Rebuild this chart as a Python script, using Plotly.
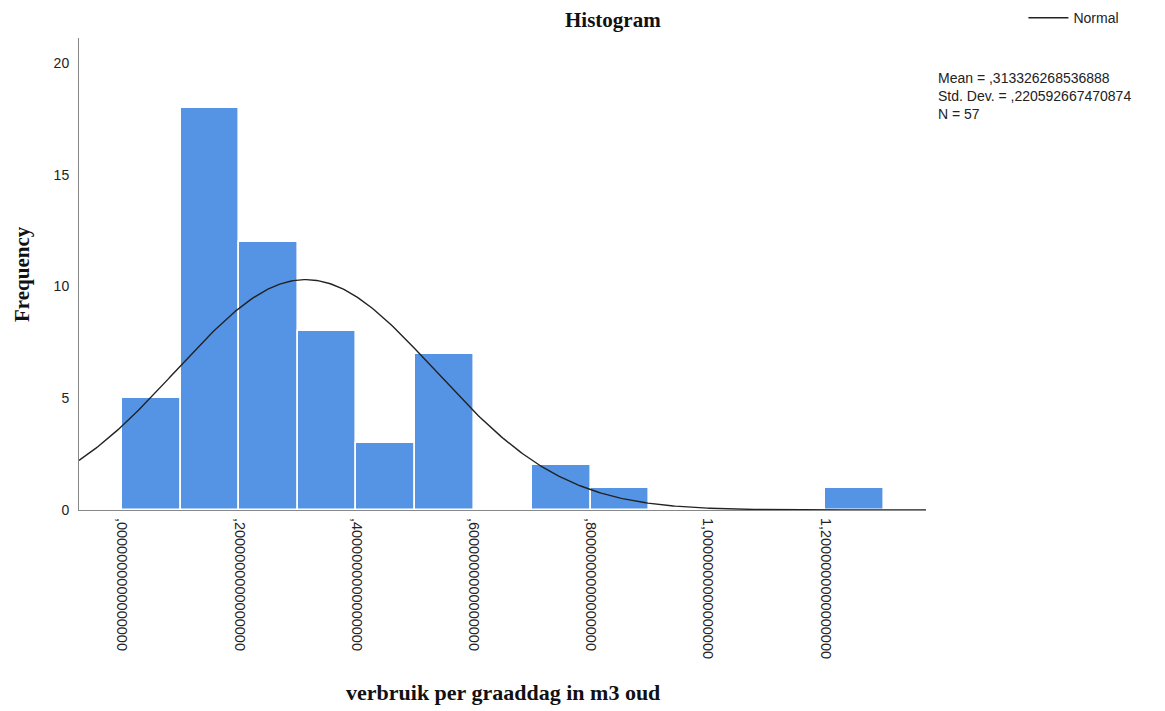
import numpy as np
import plotly.graph_objects as go

# ---- data ----
bin_starts = [0.0, 0.1, 0.2, 0.3, 0.4, 0.5, 0.6, 0.7, 0.8, 0.9, 1.0, 1.1, 1.2]
counts = [5, 18, 12, 8, 3, 7, 0, 2, 1, 0, 0, 0, 1]
BIN_WIDTH = 0.1
MEAN = 0.313326268536888
SD = 0.220592667470874
N = 57
tick_vals = [0.0, 0.2, 0.4, 0.6, 0.8, 1.0, 1.2]
tick_text = [",0000000000000000", ",2000000000000000", ",4000000000000000",
             ",6000000000000000", ",8000000000000000", "1,0000000000000000",
             "1,2000000000000000"]
y_ticks = [0, 5, 10, 15, 20]

X_RANGE = [-0.0734, 1.372]
Y_RANGE = [0, 21.12]

SERIF = "Liberation Serif, Times New Roman, serif"
SANS = "Liberation Sans, Arial, sans-serif"

fig = go.Figure()

bx = [s + BIN_WIDTH / 2 for s, c in zip(bin_starts, counts) if c > 0]
by = [c for c in counts if c > 0]
fig.add_trace(go.Bar(
    x=bx, y=by, width=BIN_WIDTH,
    marker=dict(color="#5594E4", line=dict(color="white", width=1.6)),
    showlegend=False, hoverinfo="x+y",
))

xc = np.linspace(X_RANGE[0], X_RANGE[1], 400)
yc = N * BIN_WIDTH / (SD * np.sqrt(2 * np.pi)) * np.exp(-0.5 * ((xc - MEAN) / SD) ** 2)
fig.add_trace(go.Scatter(
    x=xc, y=yc, mode="lines", name="Normal",
    line=dict(color="#222222", width=1.4), showlegend=True,
))

fig.update_layout(
    width=1157, height=703,
    margin=dict(l=71, r=239, t=30, b=201, autoexpand=False),
    paper_bgcolor="white", plot_bgcolor="white",
    bargap=0,
    font=dict(family=SANS, size=14, color="#222222"),
    legend=dict(x=1.115, y=1.076, xanchor="left", yanchor="top",
                font=dict(family=SANS, size=14, color="#222222"),
                bgcolor="rgba(0,0,0,0)", itemwidth=40),
    xaxis=dict(range=X_RANGE, showgrid=False, zeroline=False,
               showline=True, linecolor="#888888", linewidth=1,
               tickmode="array", tickvals=tick_vals, ticktext=tick_text,
               tickangle=90, ticks="", ticklabelstandoff=4,
               tickfont=dict(family=SANS, size=14.5, color="#222222")),
    yaxis=dict(range=Y_RANGE, showgrid=False, zeroline=False,
               showline=True, linecolor="#888888", linewidth=1,
               tickmode="array", tickvals=y_ticks, ticks="",
               ticklabelstandoff=6,
               tickfont=dict(family=SANS, size=14, color="#222222")),
    annotations=[
        dict(text="<b>Histogram</b>", xref="paper", yref="paper",
             x=0.630, y=1.0, yshift=18, xanchor="center", yanchor="middle",
             showarrow=False, font=dict(family=SERIF, size=21, color="#111111")),
        dict(text="<b>Frequency</b>", xref="paper", yref="paper",
             x=0.0, xshift=-57, y=0.5, xanchor="center", yanchor="middle",
             textangle=-90, showarrow=False,
             font=dict(family=SERIF, size=21, color="#111111")),
        dict(text="<b>verbruik per graaddag in m3 oud</b>", xref="paper", yref="paper",
             x=0.5, y=0.0, yshift=-182, xanchor="center", yanchor="middle",
             showarrow=False, font=dict(family=SERIF, size=22, color="#111111")),
        dict(text="Mean = ,313326268536888<br>Std. Dev. = ,220592667470874<br>N = 57",
             xref="paper", yref="paper", x=1.0, xshift=10, y=1.0, yshift=-30,
             xanchor="left", yanchor="top", align="left", showarrow=False,
             font=dict(family=SANS, size=14, color="#222222")),
    ],
)

fig.write_html("out.html")
